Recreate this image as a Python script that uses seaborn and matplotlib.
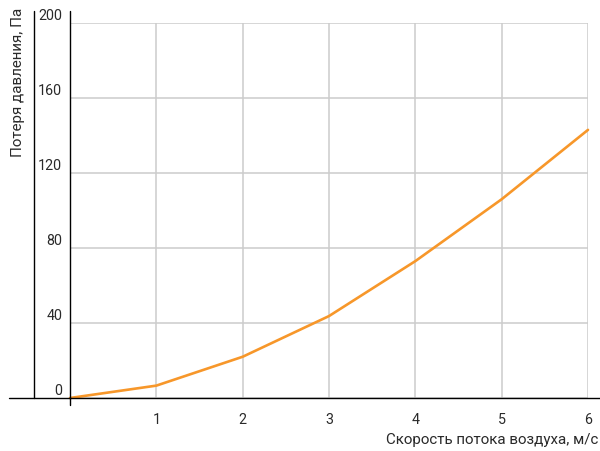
import numpy as np
import pandas as pd
import matplotlib
matplotlib.use('Agg')
import matplotlib.pyplot as plt
import matplotlib.transforms as mtransforms
from matplotlib.lines import Line2D
import seaborn as sns

# ==================================
# Data
speed = [0, 1, 2, 3, 4, 5, 6]
pressure_loss = [0, 6.6, 22, 43.7, 73, 106, 143]
y_ticks = [0, 40, 80, 120, 160, 200]
x_ticks = [1, 2, 3, 4, 5, 6]

xlabel = "Скорость потока воздуха, м/с"
ylabel = "Потеря давления, Па"

df = pd.DataFrame({'speed': speed, 'loss': pressure_loss})

# ==================================
# Plot
sns.set_style("white")
plt.rcParams['font.family'] = ['Roboto', 'DejaVu Sans']

W, H = 600, 452
fig = plt.figure(figsize=(W / 100, H / 100), dpi=100)
ax = fig.add_axes([70 / W, (H - 399) / H, 518 / W, 375 / H])

sns.lineplot(data=df, x='speed', y='loss', ax=ax,
             color='#F7972A', linewidth=1.9, zorder=5, clip_on=False)

ax.set_xlim(0, 6)
ax.set_ylim(0, 200)
ax.set_xticks(x_ticks)
ax.set_yticks(y_ticks)
ax.set_yticklabels([str(t) for t in y_ticks])
ax.grid(True, color='#CCCCCC', linewidth=1.1)
for s in ax.spines.values():
    s.set_visible(False)

txt_color = '#2a2a2a'
ax.tick_params(axis='x', length=9.5, width=1.1, color='#CCCCCC', pad=0.5,
               labelsize=10.3, labelcolor=txt_color, direction='out')
ax.tick_params(axis='y', length=2.5, width=1.1, color='#CCCCCC', pad=3,
               labelsize=10.3, labelcolor=txt_color, direction='out')

# y tick labels sit just above their gridline
shift = mtransforms.ScaledTranslation(0, 3 / 72, fig.dpi_scale_trans)
for lab in ax.get_yticklabels():
    lab.set_verticalalignment('baseline')
    lab.set_transform(lab.get_transform() + shift)

ax.set_xlabel("")
ax.set_ylabel("")

# axis lines drawn in figure coordinates
axc = 'black'
fig.add_artist(Line2D([70 / W, 70 / W], [1 - 12 / H, 1 - 406 / H],
                      transform=fig.transFigure, color=axc, linewidth=1.0))
fig.add_artist(Line2D([33.5 / W, 33.5 / W], [1 - 12 / H, 1 - 399 / H],
                      transform=fig.transFigure, color=axc, linewidth=1.0))
fig.add_artist(Line2D([9 / W, 1.0], [1 - 399 / H, 1 - 399 / H],
                      transform=fig.transFigure, color=axc, linewidth=1.0))

# axis titles
fig.text(598 / W, 1 - 440 / H, xlabel, ha='right', va='center',
         fontsize=10.9, color=txt_color)
fig.text(18 / W, 1 - 8 / H, ylabel, ha='center', va='top', rotation=90,
         fontsize=10.9, color=txt_color)

plt.savefig('out.png', dpi=100, facecolor='white')
